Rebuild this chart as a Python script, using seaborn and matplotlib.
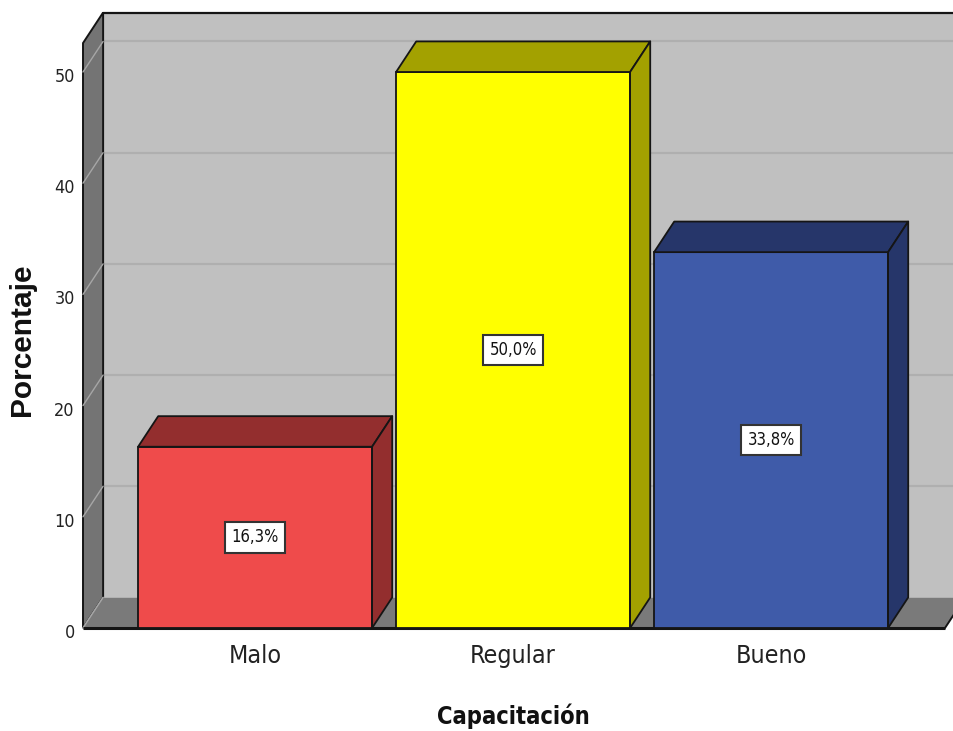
import matplotlib
matplotlib.use("Agg")
import matplotlib.pyplot as plt
from matplotlib.patches import Polygon, Rectangle
from matplotlib.lines import Line2D
from matplotlib import font_manager
from matplotlib.transforms import ScaledTranslation
import seaborn as sns
import pandas as pd

# ---- data -------------------------------------------------------------
categorias = ["Malo", "Regular", "Bueno"]
porcentajes = [16.3, 50.0, 33.8]
colores_frente = ["#EF4B4B", "#FFFF00", "#3F5BA9"]
colores_lado = ["#932E2E", "#A3A100", "#26366A"]
ticks_y = [0, 10, 20, 30, 40, 50]

# ---- fonts ------------------------------------------------------------
fuentes = font_manager.fontManager.ttflist
disponibles = {f.name for f in fuentes}
ancha = "Liberation Sans" if "Liberation Sans" in disponibles else "DejaVu Sans"
condensada_dejavu = any(f.name == "DejaVu Sans" and "ondensed" in str(f.stretch)
                        for f in fuentes) or any(
    f.name == "DejaVu Sans" and "Condensed" in f.fname for f in fuentes)

if "Liberation Sans Narrow" in disponibles:
    estrecha, estiramiento, escala = "Liberation Sans Narrow", "normal", 1.0
elif condensada_dejavu:
    estrecha, estiramiento, escala = "DejaVu Sans", "condensed", 0.92
else:
    estrecha, estiramiento, escala = ancha, "normal", 0.84

sns.set_theme(style="white")
plt.rcParams["font.family"] = [estrecha, "DejaVu Sans"]
plt.rcParams["font.stretch"] = estiramiento

W, H = 954, 731
fig = plt.figure(figsize=(W / 100, H / 100), dpi=100)
fig.patch.set_facecolor("white")
# axes area = front plane of the 3D box
ax = fig.add_axes([83 / W, (H - 628) / H, (W - 83) / W, 628 / H])
ax.set_facecolor("none")

# box geometry (data units)
X_LEFT = -0.667
X_RIGHT = X_LEFT + 871 / 258
Y_TOP = 628 / 11.12
FLOOR_RIGHT = 2.674
WALL_TOP = 52.6
DX, DY = 0.078, 2.75

EDGE = "#151515"

# back wall
ax.add_patch(Polygon([(X_LEFT + DX, DY), (X_LEFT + DX, WALL_TOP + DY),
                      (FLOOR_RIGHT + DX, WALL_TOP + DY), (FLOOR_RIGHT + DX, DY)],
                     closed=True, fc="#C0C0C0", ec="none", zorder=0, clip_on=False))
# gridlines on back wall and left wall
for v in ticks_y[1:]:
    ax.add_line(Line2D([X_LEFT + DX, FLOOR_RIGHT + DX], [v + DY, v + DY],
                       color="#AFAFAF", lw=1.6, zorder=1, clip_on=False))
# left wall
ax.add_patch(Polygon([(X_LEFT, 0), (X_LEFT, WALL_TOP), (X_LEFT + DX, WALL_TOP + DY),
                      (X_LEFT + DX, DY)],
                     closed=True, fc="#747474", ec=EDGE, lw=1.4, zorder=2, clip_on=False))
for v in ticks_y:
    ax.add_line(Line2D([X_LEFT, X_LEFT + DX], [v, v + DY],
                       color="#A6A6A6", lw=1.0, zorder=2.5, clip_on=False))
# top edge of back wall
ax.add_line(Line2D([X_LEFT + DX, FLOOR_RIGHT + DX], [WALL_TOP + DY, WALL_TOP + DY],
                   color=EDGE, lw=1.6, zorder=2.6, clip_on=False))
# floor
ax.add_patch(Polygon([(X_LEFT, 0), (X_LEFT + DX, DY), (FLOOR_RIGHT + DX, DY),
                      (FLOOR_RIGHT, 0)],
                     closed=True, fc="#7A7A7A", ec="none", zorder=3, clip_on=False))
ax.add_line(Line2D([X_LEFT, X_LEFT + DX], [0, DY], color="#A6A6A6", lw=1.0,
                   zorder=3.1, clip_on=False))
ax.add_line(Line2D([FLOOR_RIGHT, FLOOR_RIGHT + DX], [0, DY], color=EDGE, lw=1.4,
                   zorder=3.1, clip_on=False))
ax.add_line(Line2D([X_LEFT, FLOOR_RIGHT], [0, 0], color=EDGE, lw=2.2,
                   zorder=3.2, clip_on=False, solid_capstyle="butt"))

# ---- bars -------------------------------------------------------------
df = pd.DataFrame({"Capacitación": categorias, "Porcentaje": porcentajes})
sns.barplot(data=df, x="Capacitación", y="Porcentaje", hue="Capacitación",
            palette=colores_frente, saturation=1, width=0.907,
            edgecolor=EDGE, linewidth=1.3, legend=False, ax=ax, zorder=5)

barras = [p for p in ax.patches if isinstance(p, Rectangle) and p.get_height() > 0]
barras = sorted(barras, key=lambda p: p.get_x())
for bar, lado in zip(barras, colores_lado):
    x0, w, h = bar.get_x(), bar.get_width(), bar.get_height()
    ax.add_patch(Polygon([(x0, h), (x0 + DX, h + DY), (x0 + w + DX, h + DY), (x0 + w, h)],
                         closed=True, fc=lado, ec=EDGE, lw=1.3, zorder=5.5,
                         joinstyle="round", clip_on=False))
    ax.add_patch(Polygon([(x0 + w, 0), (x0 + w + DX, DY), (x0 + w + DX, h + DY), (x0 + w, h)],
                         closed=True, fc=lado, ec=EDGE, lw=1.3, zorder=5.5,
                         joinstyle="round", clip_on=False))
    etiqueta = f"{h:.1f}".replace(".", ",") + "%"
    ax.text(x0 + w / 2, h / 2, etiqueta, ha="center", va="center",
            fontsize=13 * escala, color="#111111", zorder=7,
            bbox=dict(boxstyle="square,pad=0.38", fc="white", ec="#333333", lw=1.5))

# ---- axes, ticks, labels ----------------------------------------------
ax.set_xlim(X_LEFT, X_RIGHT)
ax.set_ylim(0, Y_TOP)
ax.grid(False)
for s in ax.spines.values():
    s.set_visible(False)

ax.set_yticks(ticks_y)
ax.set_yticklabels([str(t) for t in ticks_y])
ax.tick_params(axis="y", length=0, pad=6, labelsize=14 * escala, labelcolor="#222222")
ax.tick_params(axis="x", length=0, pad=11.5, labelsize=19.5 * escala, labelcolor="#222222")
desplazamiento = ScaledTranslation(0, -3 / 100, fig.dpi_scale_trans)
for t in ax.yaxis.get_major_ticks():
    t.label1.set_transform(t.label1.get_transform() + desplazamiento)

ax.set_xlabel("Capacitación", fontsize=18.5 * escala, fontweight="bold", color="#111111")
ax.xaxis.label.set_va("center")
ax.xaxis.set_label_coords((513 - 83) / 871, (628 - 716) / 628)

ax.set_ylabel("Porcentaje", fontsize=21.5, fontweight="bold", color="#111111",
              family=[ancha, "DejaVu Sans"], fontstretch="normal")
ax.yaxis.label.set_va("center")
ax.yaxis.set_label_coords((22 - 83) / 871, (628 - 340) / 628)

fig.savefig("out.png", dpi=100, facecolor="white")
